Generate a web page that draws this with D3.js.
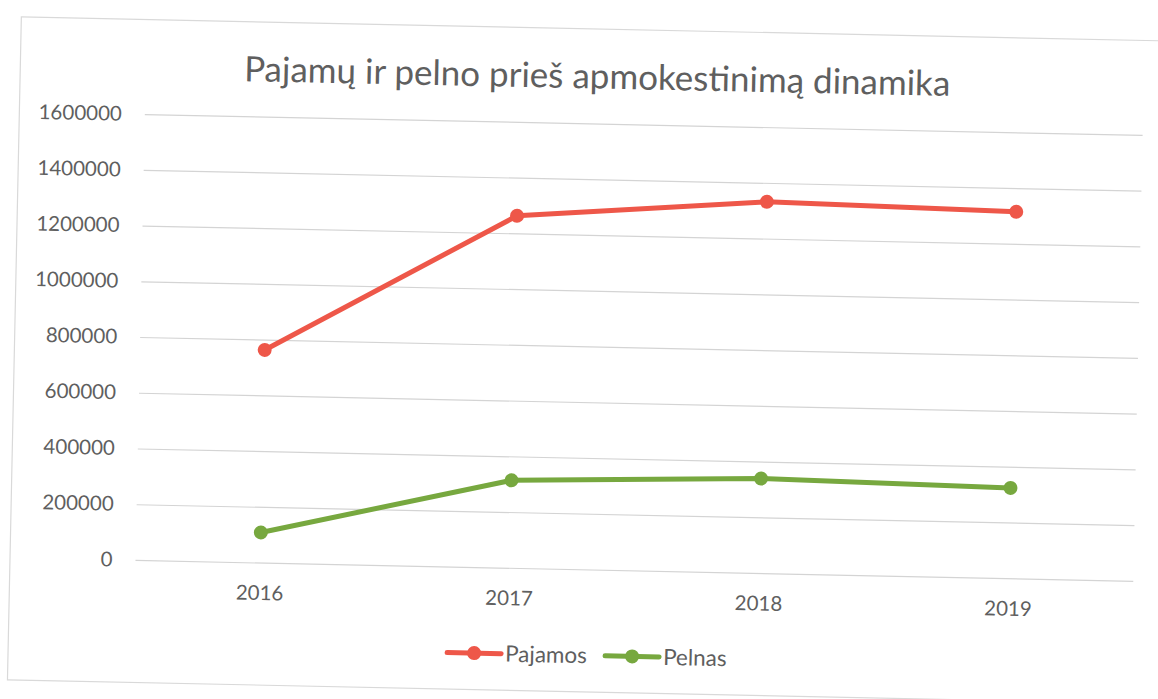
<!DOCTYPE html>
<html>
<head>
<meta charset="utf-8">
<script src="https://cdn.jsdelivr.net/npm/d3@7"></script>
<style>
  html, body { margin: 0; padding: 0; background: #ffffff; }
  svg { display: block; }
  text { font-family: Lato, "Open Sans", "Liberation Sans", sans-serif; }
</style>
</head>
<body>
<svg id="chart" width="1158" height="699"></svg>
<script>
// ---- data ----
const title = "Pajamų ir pelno prieš apmokestinimą dinamika";
const categories = ["2016", "2017", "2018", "2019"];
const pajamos = [763000, 1263000, 1332000, 1315000];
const pelnas = [108000, 314000, 339000, 324000];
const yTicks = [0, 200000, 400000, 600000, 800000, 1000000, 1200000, 1400000, 1600000];
const seriesNames = ["Pajamos", "Pelnas"];
const seriesColors = ["#ee5749", "#77a83f"];

// ---- layout ----
const W = 1158, H = 699;
const plot = { left: 135.5, right: 1133.5, top: 114, bottom: 560 };
const tilt = 1.2; // the reference is a slightly rotated scan

const svg = d3.select("#chart");
svg.append("rect").attr("width", W).attr("height", H).attr("fill", "#ffffff");

const g = svg.append("g")
  .attr("transform", `rotate(${tilt}, 137, 560)`);

// chart border
g.append("rect")
  .attr("x", 10).attr("y", 19.5)
  .attr("width", 1180).attr("height", 663)
  .attr("fill", "#ffffff")
  .attr("stroke", "#d9d9d9").attr("stroke-width", 1.2);

const x = d3.scaleBand().domain(categories).range([plot.left, plot.right]);
const y = d3.scaleLinear().domain([0, 1600000]).range([plot.bottom, plot.top]);

// y axis with gridlines
const yAxis = g.append("g")
  .attr("transform", `translate(${plot.left},0)`)
  .call(d3.axisLeft(y).tickValues(yTicks).tickFormat(d3.format("d"))
    .tickSize(-(plot.right - plot.left)).tickPadding(23));
yAxis.select(".domain").remove();
yAxis.selectAll(".tick line").attr("stroke", "#d4d4d4").attr("stroke-width", 1.2);
yAxis.selectAll(".tick text").attr("fill", "#5f5f5f").attr("font-size", 20.5);

// x axis
const xAxis = g.append("g")
  .attr("transform", `translate(0,${plot.bottom})`)
  .call(d3.axisBottom(x).tickSize(0).tickPadding(23));
xAxis.select(".domain").remove();
xAxis.selectAll(".tick text").attr("fill", "#5f5f5f").attr("font-size", 20.5);

// title
g.append("text")
  .attr("x", 587).attr("y", 79)
  .attr("text-anchor", "middle")
  .attr("fill", "#5f5f5f")
  .attr("font-size", 35)
  .text(title);

// series
const series = [pajamos, pelnas];
const line = d3.line()
  .x((d, i) => x(categories[i]) + x.bandwidth() / 2)
  .y(d => y(d));

series.forEach((vals, si) => {
  g.append("path")
    .datum(vals)
    .attr("fill", "none")
    .attr("stroke", seriesColors[si])
    .attr("stroke-width", 5)
    .attr("stroke-linejoin", "round")
    .attr("stroke-linecap", "round")
    .attr("d", line);
  g.selectAll(null)
    .data(vals)
    .enter().append("circle")
    .attr("cx", (d, i) => x(categories[i]) + x.bandwidth() / 2)
    .attr("cy", d => y(d))
    .attr("r", 7)
    .attr("fill", seriesColors[si]);
});

// legend
const legendX = [449, 607];
const legendY = 646;
seriesNames.forEach((name, si) => {
  const lg = g.append("g").attr("transform", `translate(${legendX[si]},${legendY})`);
  lg.append("line")
    .attr("x1", 0).attr("x2", 54).attr("y1", 0).attr("y2", 0)
    .attr("stroke", seriesColors[si]).attr("stroke-width", 5)
    .attr("stroke-linecap", "round");
  lg.append("circle").attr("cx", 27).attr("cy", 0).attr("r", 7)
    .attr("fill", seriesColors[si]);
  lg.append("text")
    .attr("x", 58).attr("y", 0).attr("dy", "0.35em")
    .attr("fill", "#5f5f5f").attr("font-size", 22.5)
    .text(name);
});
</script>
</body>
</html>
